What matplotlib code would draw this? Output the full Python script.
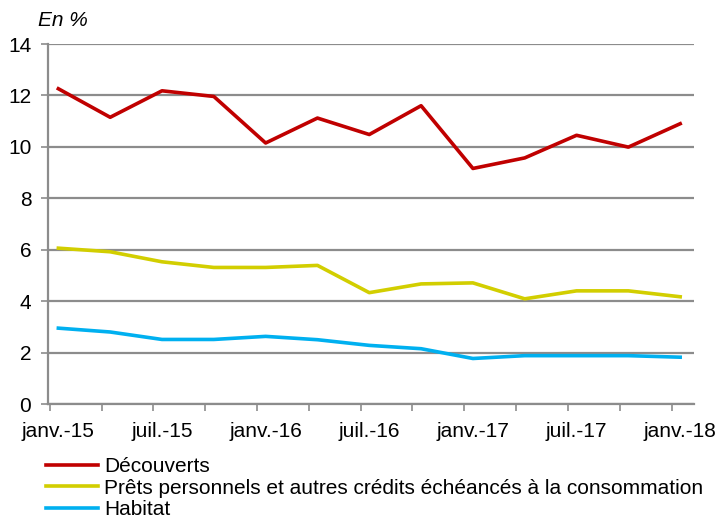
import matplotlib as mpl
import matplotlib.pyplot as plt

# quarterly points, janv.-15 .. janv.-18 (months since janv.-15)
months = list(range(0, 37, 3))
decouverts = [12.26, 11.15, 12.18, 11.96, 10.15, 11.12, 10.48, 11.6, 9.16, 9.57, 10.45, 9.99, 10.9]
prets = [6.06, 5.92, 5.53, 5.31, 5.31, 5.39, 4.33, 4.67, 4.71, 4.09, 4.40, 4.40, 4.17]
habitat = [2.95, 2.80, 2.51, 2.51, 2.63, 2.50, 2.28, 2.15, 1.77, 1.88, 1.88, 1.88, 1.82]
series_names = ['Découverts',
                'Prêts personnels et autres crédits échéancés à la consommation',
                'Habitat']
tick_labels = ['janv.-15', 'juil.-15', 'janv.-16', 'juil.-16', 'janv.-17', 'juil.-17', 'janv.-18']

dpi = 100
fig = plt.figure(dpi=dpi, figsize=(723 / dpi, 522 / dpi))
mpl.rcParams.update({'font.size': 15, 'font.family': 'Liberation Sans'})

ax = fig.add_axes([48 / 723, 1 - 404 / 522, (694 - 48) / 723, (404 - 44) / 522])

grey = '#8c8c8c'
ax.yaxis.grid(True, color=grey, linewidth=1.6, zorder=1)
ax.set_axisbelow(True)

xs = [m + 0.5 for m in months]
ax.plot(xs, decouverts, color='#C00000', linewidth=2.6, label=series_names[0], zorder=3)
ax.plot(xs, prets, color='#D2CE00', linewidth=2.6, label=series_names[1], zorder=3)
ax.plot(xs, habitat, color='#00B0F0', linewidth=2.6, label=series_names[2], zorder=3)

ax.set_xlim(-0.1, 37.3)
ax.set_ylim(0, 14)
ax.set_yticks(range(0, 15, 2))
ax.set_xticks(months, minor=False)
ax.set_xticks([m + 0.5 for m in months[::2]], minor=True)
ax.set_xticklabels([''] * len(months))
ax.set_xticklabels(tick_labels, minor=True)
ax.tick_params(axis='x', which='major', length=5, color=grey, width=1.2)
ax.tick_params(axis='x', which='minor', length=0, pad=13)
ax.tick_params(axis='y', length=5, color=grey, width=1.2, pad=7)

for s in ['top', 'right']:
    ax.spines[s].set_visible(False)
for s in ['left', 'bottom']:
    ax.spines[s].set_color(grey)
    ax.spines[s].set_linewidth(1.6)

fig.text(38 / 723, 1 - 20 / 522, 'En %', style='italic', va='center', ha='left')

fig.legend(loc='upper left', bbox_to_anchor=(46 / 723, 1 - 457 / 522), frameon=False,
           handlelength=2.5, handletextpad=0.3, labelspacing=0.13, borderaxespad=0,
           borderpad=0)

fig.savefig('out.png')
